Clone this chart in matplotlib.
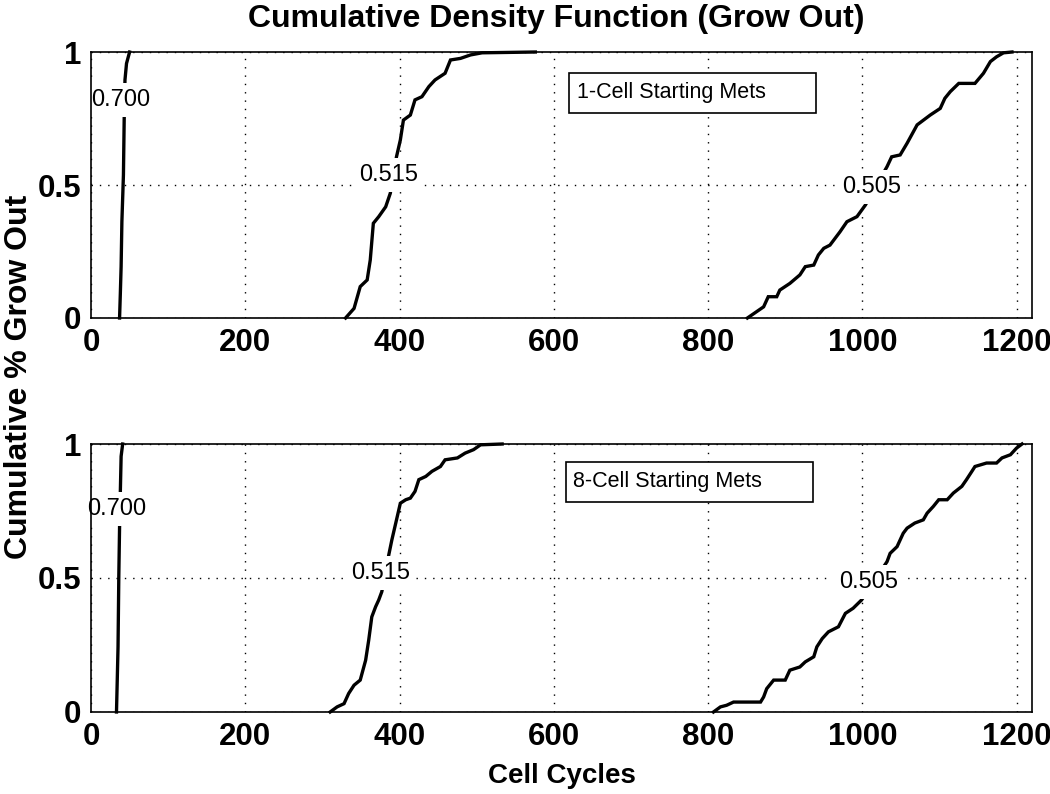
import numpy as np
import matplotlib
matplotlib.use('Agg')
import matplotlib.pyplot as plt
from matplotlib.patches import Rectangle

plt.rcParams['font.family'] = ['Liberation Sans', 'DejaVu Sans']

# --- data: (cell cycles, cumulative fraction) ---
# 1-cell starting mets
top_a_x = [37, 38, 39, 40, 42, 43, 44, 46, 50]
top_a_y = [0.0, 0.093, 0.193, 0.362, 0.538, 0.751, 0.895, 0.957, 1.0]
top_b_x = [330, 341, 349, 358, 362, 366, 373, 382, 388, 396, 401, 405, 414, 420,
           429, 438, 446, 459, 466, 479, 492, 507, 576]
top_b_y = [0.0, 0.036, 0.118, 0.143, 0.218, 0.356, 0.381, 0.418, 0.469, 0.606,
           0.669, 0.744, 0.763, 0.820, 0.832, 0.870, 0.895, 0.920, 0.970, 0.976,
           0.989, 0.997, 1.0]
top_c_x = [851, 863, 872, 878, 889, 893, 906, 919, 926, 937, 943, 950, 958, 971,
           980, 993, 1004, 1032, 1038, 1049, 1058, 1071, 1088, 1101, 1107, 1114,
           1125, 1146, 1157, 1166, 1174, 1183, 1194]
top_c_y = [0.0, 0.024, 0.042, 0.080, 0.080, 0.105, 0.130, 0.162, 0.193, 0.199,
           0.237, 0.262, 0.274, 0.324, 0.362, 0.381, 0.425, 0.569, 0.606, 0.613,
           0.657, 0.726, 0.763, 0.788, 0.826, 0.851, 0.882, 0.882, 0.920, 0.964,
           0.982, 0.997, 1.0]

# 8-cell starting mets
bot_a_x = [33, 34, 35, 36, 37, 38, 39, 41]
bot_a_y = [0.0, 0.12, 0.243, 0.505, 0.692, 0.823, 0.954, 1.0]
bot_b_x = [310, 319, 328, 334, 341, 349, 356, 360, 364, 369, 373, 377, 386, 390,
           397, 401, 408, 414, 420, 425, 434, 442, 453, 459, 475, 485, 496, 505, 533]
bot_b_y = [0.0, 0.019, 0.031, 0.069, 0.100, 0.119, 0.193, 0.268, 0.355, 0.393,
           0.418, 0.449, 0.586, 0.642, 0.729, 0.779, 0.792, 0.798, 0.823, 0.867,
           0.879, 0.898, 0.916, 0.941, 0.948, 0.966, 0.979, 0.997, 1.0]
bot_c_x = [807, 816, 824, 833, 868, 872, 876, 885, 900, 906, 919, 926, 937, 941,
           948, 956, 969, 978, 988, 999, 1032, 1036, 1045, 1053, 1058, 1068, 1079,
           1084, 1092, 1099, 1110, 1118, 1129, 1135, 1142, 1146, 1161, 1174, 1181,
           1192, 1200, 1207]
bot_c_y = [0.0, 0.019, 0.025, 0.037, 0.037, 0.056, 0.087, 0.119, 0.119, 0.156,
           0.168, 0.187, 0.206, 0.243, 0.274, 0.299, 0.318, 0.368, 0.387, 0.418,
           0.561, 0.592, 0.617, 0.667, 0.686, 0.705, 0.717, 0.742, 0.767, 0.792,
           0.792, 0.817, 0.842, 0.867, 0.898, 0.916, 0.929, 0.929, 0.948, 0.960,
           0.985, 1.0]

curve_labels = ['0.700', '0.515', '0.505']
top_label_x = [39, 386, 1012]
top_label_y = [0.82, 0.538, 0.494]
bot_label_x = [33, 375, 1008]
bot_label_y = [0.757, 0.518, 0.486]

panel_titles = ['1-Cell Starting Mets', '8-Cell Starting Mets']
xticks = [0, 200, 400, 600, 800, 1000, 1200]
yticks = [0, 0.5, 1]
ytick_labels = ['0', '0.5', '1']

fig = plt.figure(figsize=(10.5, 7.94), dpi=100)
ax1 = fig.add_axes([0.0867, 0.5995, 0.8962, 0.335])
ax2 = fig.add_axes([0.0867, 0.1033, 0.8962, 0.3375])

panels = [
    (ax1, [(top_a_x, top_a_y), (top_b_x, top_b_y), (top_c_x, top_c_y)],
     top_label_x, top_label_y, panel_titles[0], (0.508, 0.771, 0.262, 0.150), 0.516),
    (ax2, [(bot_a_x, bot_a_y), (bot_b_x, bot_b_y), (bot_c_x, bot_c_y)],
     bot_label_x, bot_label_y, panel_titles[1], (0.505, 0.784, 0.262, 0.149), 0.512),
]

for ax, curves, lx, ly, name, box, tx in panels:
    for cx, cy in curves:
        ax.plot(cx, cy, color='black', lw=2.4, solid_joinstyle='miter',
                clip_on=False, zorder=3)
    for lab, x, y in zip(curve_labels, lx, ly):
        ax.text(x, y, lab, fontsize=17, ha='center', va='center', zorder=5,
                bbox=dict(boxstyle='square,pad=0.25', fc='white', ec='none'))
    ax.set_xlim(0, 1220)
    ax.set_ylim(0, 1)
    ax.set_xticks(xticks)
    ax.set_yticks(yticks)
    ax.set_yticklabels(ytick_labels)
    ax.grid(True, color='black', linestyle=(0, (1, 5)), linewidth=1.0)
    ax.tick_params(direction='in', length=0, labelsize=22.5, pad=7)
    for t in ax.get_xticklabels() + ax.get_yticklabels():
        t.set_fontweight('bold')
    for s in ax.spines.values():
        s.set_linewidth(1.2)
        s.set_zorder(6)
    ax.add_patch(Rectangle((box[0], box[1]), box[2], box[3], transform=ax.transAxes,
                           fill=True, fc='white', ec='black', lw=1.2, zorder=4))
    ax.text(tx, box[1] + box[3] / 2, name, transform=ax.transAxes, fontsize=15.5,
            ha='left', va='center', zorder=5)

fig.text(0.53, 0.976, 'Cumulative Density Function (Grow Out)', fontsize=23,
         fontweight='bold', ha='center', va='center')
fig.text(0.018, 0.525, 'Cumulative % Grow Out', fontsize=23, fontweight='bold',
         rotation=90, ha='center', va='center')
ax2.set_xlabel('Cell Cycles', fontsize=20, fontweight='bold', labelpad=8)

fig.savefig('out.png', dpi=100)
